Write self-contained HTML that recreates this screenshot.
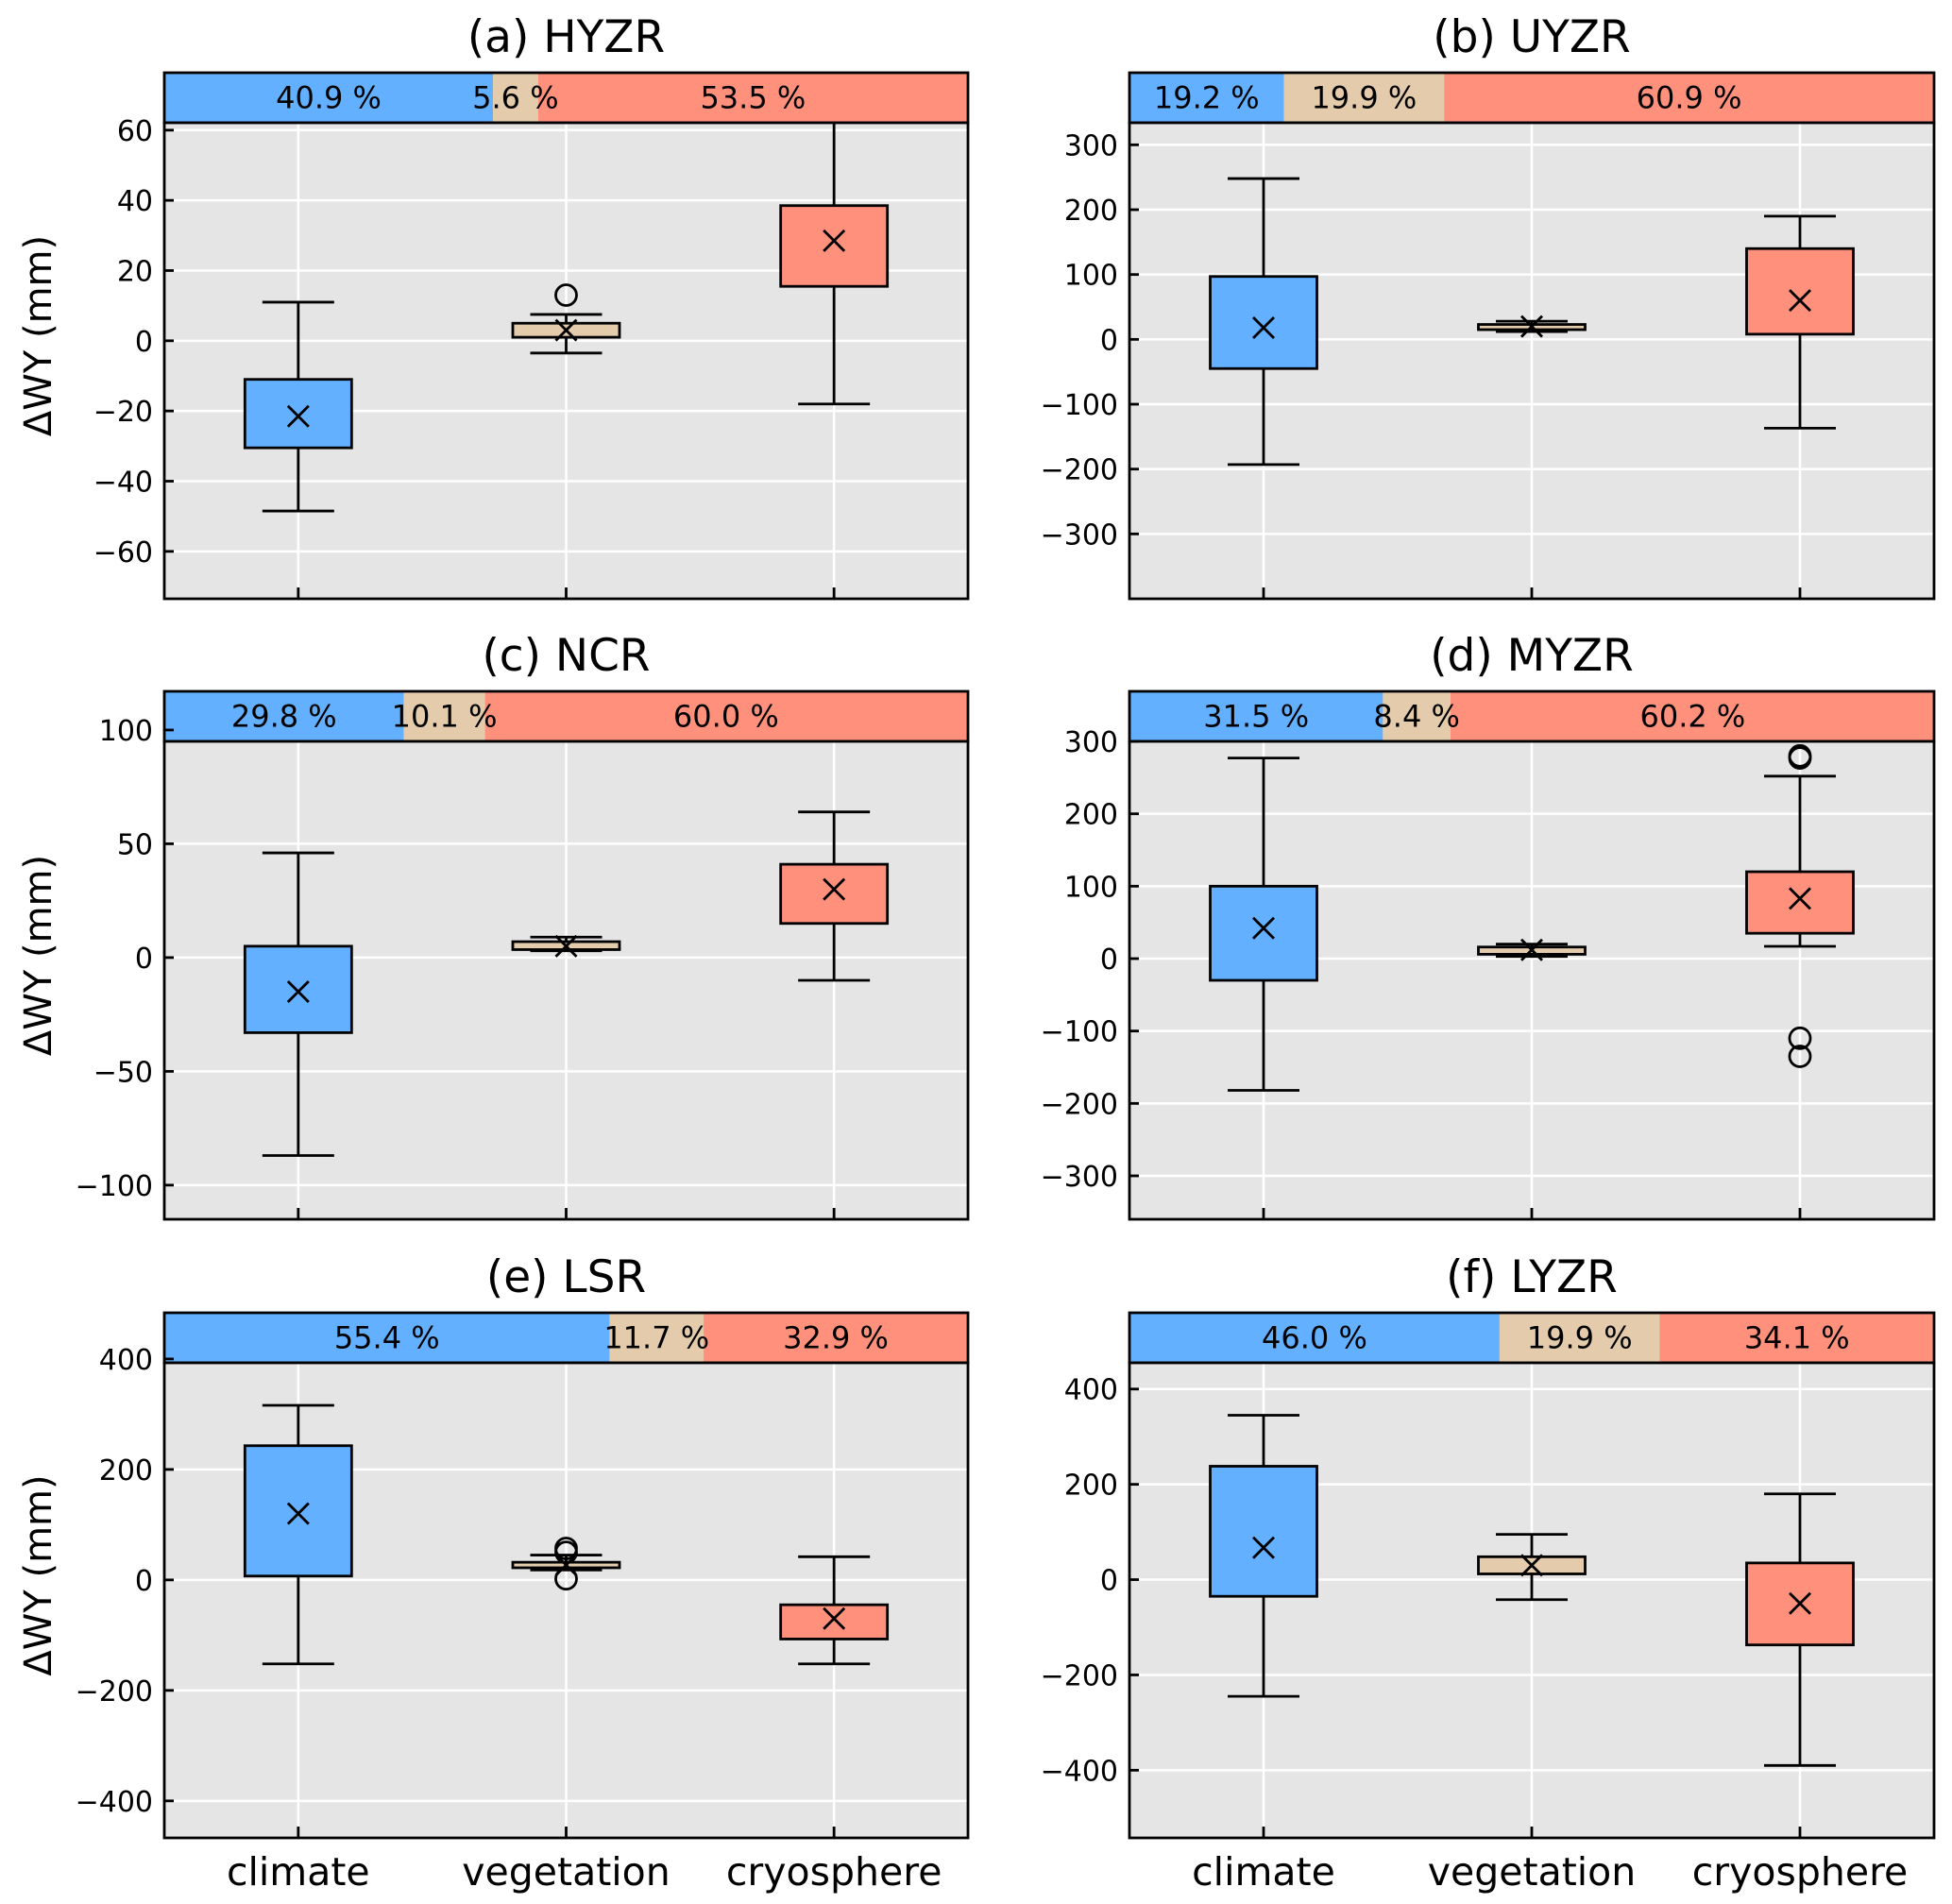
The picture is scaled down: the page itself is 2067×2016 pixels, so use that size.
<!DOCTYPE html>
<html><head><meta charset="utf-8">
<style>
html,body{margin:0;padding:0;background:#fff;}
svg{display:block;font-family:"DejaVu Sans","Liberation Sans",sans-serif;}
</style></head>
<body>
<svg id="fig" width="2067" height="2016" viewBox="0 0 2067 2016" xmlns="http://www.w3.org/2000/svg"></svg>
<script>
// ---- data ----
const categories = ["climate", "vegetation", "cryosphere"];
const panelTitles = ["(a) HYZR", "(b) UYZR", "(c) NCR", "(d) MYZR", "(e) LSR", "(f) LYZR"];
const shares = [[40.9,5.6,53.5],[19.2,19.9,60.9],[29.8,10.1,60.0],[31.5,8.4,60.2],[55.4,11.7,32.9],[46.0,19.9,34.1]];
const yLimits = [[-73.5,62.1],[-400,334],[-115,95],[-360,300],[-467,393],[-542,455]];
const yTicks = [[-60,-40,-20,0,20,40,60],[-300,-200,-100,0,100,200,300],[-100,-50,0,50,100],[-300,-200,-100,0,100,200,300],[-400,-200,0,200,400],[-400,-200,0,200,400]];
// per panel: [whiskerLow, q1, q3, whiskerHigh] for each category
const boxStats = [
 [[-48.5,-30.5,-11,11],[-3.5,1,5,7.5],[-18,15.5,38.5,70]],
 [[-193,-45,97,248],[12,15,23,28],[-137,8,140,190]],
 [[-87,-33,5,46],[3,3.5,7,9],[-10,15,41,64]],
 [[-182,-30,100,277],[3,6,16,20],[17,35,120,252]],
 [[-152,7,243,316],[18,22,32,45],[-152,-107,-45,42]],
 [[-245,-35,238,345],[-42,12,48,95],[-390,-137,35,180]]
];
const means = [[-21.5,3,28.5],[18,20,60],[-15,5,30],[42,12,83],[120,27,-70],[67,30,-50]];
const outliers = [[[],[13],[]],[[],[],[]],[[],[],[]],[[],[],[280,277,-110,-135]],[[],[57,50,2],[]],[[],[],[]]];

const colors = ["#62b0ff","#e3cbab","#ff917c"];
const svg = document.getElementById('fig');
const NS = "http://www.w3.org/2000/svg";
function mk(tag, attrs, parent){const e=document.createElementNS(NS,tag);for(const k in attrs)e.setAttribute(k,attrs[k]);(parent||svg).appendChild(e);return e;}

const colX = [[174,1025],[1196,2048]];
const rowY = [[77,130,634],[732,785,1291],[1390,1443,1946]];
const LW = 2.8;

for(let p=0;p<6;p++){
  const col=p%2,row=Math.floor(p/2);
  const L=colX[col][0],R=colX[col][1],W=R-L;
  const BT=rowY[row][0],T=rowY[row][1],B=rowY[row][2];
  const [ymin,ymax]=yLimits[p];
  const y=v=>B-(v-ymin)/(ymax-ymin)*(B-T);
  const x=i=>L+W*(2*i+1)/6;
  const g=mk('g',{});
  
  
  const t=mk('text',{x:(L+R)/2,y:BT-22,'text-anchor':'middle','font-size':47,fill:'#000'},g);
  t.textContent=panelTitles[p];
  
  
  let cx=L;
  for(let k=0;k<3;k++){
    const w=W*shares[p][k]/100;
    const r=mk('rect',{x:cx,y:BT,width:w,height:T-BT,fill:colors[k]},g);
    
    
    cx+=w;
  }
  cx=L;
  for(let k=0;k<3;k++){
    const w=W*shares[p][k]/100;
    const tt=mk('text',{x:cx+w/2,y:(BT+T)/2+11,'text-anchor':'middle','font-size':32,fill:'#000'},g);
    tt.textContent=shares[p][k].toFixed(1)+' %';
    
    
    cx+=w;
  }
  mk('rect',{x:L,y:BT,width:W,height:T-BT,fill:'none',stroke:'#000','stroke-width':LW},g);
  const bg=mk('rect',{x:L,y:T,width:W,height:B-T,fill:'#e5e5e5'},g);
  
  
  const cid='clip'+p;
  const cp=mk('clipPath',{id:cid},g);mk('rect',{x:L,y:T,width:W,height:B-T},cp);
  const pg=mk('g',{'clip-path':'url(#'+cid+')'},g);
  yTicks[p].forEach(v=>{
    mk('line',{x1:L,x2:R,y1:y(v),y2:y(v),stroke:'#fff','stroke-width':2.5},pg);
    mk('line',{x1:L,x2:L+10,y1:y(v),y2:y(v),stroke:'#000','stroke-width':LW},g);
    const lt=mk('text',{x:L-12,y:y(v)+11,'text-anchor':'end','font-size':30,fill:'#000'},g);
    lt.textContent=(v<0?'\u2212'+(-v):String(v));
    
    
  });
  for(let i=0;i<3;i++){
    mk('line',{x1:x(i),x2:x(i),y1:T,y2:B,stroke:'#fff','stroke-width':2.5},pg);
    mk('line',{x1:x(i),x2:x(i),y1:B,y2:B-12,stroke:'#000','stroke-width':LW},g);
  }
  for(let i=0;i<3;i++){
    const [wl,q1,q3,wh]=boxStats[p][i];
    const bx=mk('g',{},pg);
    
    
    const cx0=x(i),bw=113,cw=76;
    mk('line',{x1:cx0,x2:cx0,y1:y(q3),y2:y(wh),stroke:'#000','stroke-width':LW},bx);
    mk('line',{x1:cx0,x2:cx0,y1:y(q1),y2:y(wl),stroke:'#000','stroke-width':LW},bx);
    mk('line',{x1:cx0-cw/2,x2:cx0+cw/2,y1:y(wh),y2:y(wh),stroke:'#000','stroke-width':LW},bx);
    mk('line',{x1:cx0-cw/2,x2:cx0+cw/2,y1:y(wl),y2:y(wl),stroke:'#000','stroke-width':LW},bx);
    mk('rect',{x:cx0-bw/2,y:y(q3),width:bw,height:Math.max(1,y(q1)-y(q3)),fill:colors[i],stroke:'#000','stroke-width':LW},bx);
    const m=y(means[p][i]),s=11;
    mk('path',{d:`M${cx0-s},${m-s}L${cx0+s},${m+s}M${cx0-s},${m+s}L${cx0+s},${m-s}`,stroke:'#000','stroke-width':LW},bx);
    outliers[p][i].forEach(v=>{
      const c=mk('circle',{cx:cx0,cy:y(v),r:11,fill:'none',stroke:'#000','stroke-width':LW},bx);
      
      
    });
  }
  mk('rect',{x:L,y:T,width:W,height:B-T,fill:'none',stroke:'#000','stroke-width':LW},g);
  if(col===0){
    const cy=(BT+B)/2;
    const yl=mk('text',{x:0,y:0,transform:`translate(54,${cy}) rotate(-90)`,'text-anchor':'middle','font-size':40,fill:'#000'},g);
    yl.textContent='\u0394WY (mm)';
    
    
  }
  if(row===2){
    for(let i=0;i<3;i++){
      const xl=mk('text',{x:x(i),y:B+50,'text-anchor':'middle','font-size':41,fill:'#000'},g);
      xl.textContent=categories[i];
      
      
    }
  }
}
</script>
</body></html>
